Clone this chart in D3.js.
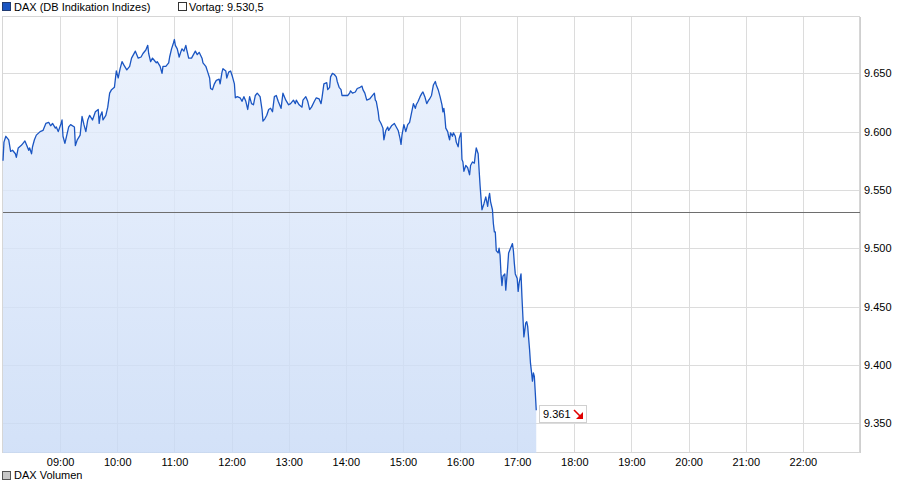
<!DOCTYPE html>
<html>
<head>
<meta charset="utf-8">
<script src="https://cdn.jsdelivr.net/npm/d3@7/dist/d3.min.js"></script>
<style>
html,body{margin:0;padding:0;background:#fff;}
svg{display:block;}
text{font-family:"Liberation Sans",Arial,sans-serif;font-size:11px;fill:#000;}
</style>
</head>
<body>
<svg id="chart" width="917" height="480"></svg>
<script>
// ---- data ----
const seriesName = "DAX (DB Indikation Indizes)";
const prevLabel = "Vortag: 9.530,5";
const prevClose = 9530.5;
const volumeLabel = "DAX Volumen";
const times = [
"08:00","08:01","08:03","08:06","08:08","08:10","08:13","08:14","08:16","08:19","08:21","08:23","08:25","08:27","08:28","08:30","08:31","08:33","08:35","08:39","08:42","08:45","08:48","08:50","08:52","08:55","08:56","08:58","09:01","09:02","09:03","09:05","09:07","09:09","09:11","09:15","09:16","09:18","09:21","09:23","09:25","09:27","09:29","09:31","09:34","09:37","09:40","09:41","09:42","09:44","09:45","09:48","09:50","09:52","09:54","09:57","09:59","10:01","10:03","10:05","10:07","10:10","10:13","10:15","10:17","10:19","10:22",
"10:25","10:27","10:30","10:32","10:33","10:35","10:37","10:39","10:41","10:42","10:45","10:47","10:48","10:51","10:54","10:55","10:57","10:59","11:00","11:01","11:03","11:05","11:07","11:08","11:10","11:12","11:13","11:15","11:18","11:22","11:24","11:26","11:29","11:30","11:33","11:35","11:37","11:38","11:40","11:42","11:44","11:47","11:48","11:50","11:51","11:54","11:55","11:57","11:59","12:01","12:03","12:04","12:06","12:09","12:11","12:13","12:15","12:17","12:19","12:21","12:23","12:25","12:27","12:30","12:32","12:33","12:35","12:37","12:39","12:41","12:43","12:45",
"12:47","12:49","12:52","12:54","12:57","13:00","13:02","13:05","13:07","13:08","13:11","13:14","13:15","13:18","13:20","13:22","13:24","13:27","13:29","13:32","13:34","13:35","13:37","13:40","13:41","13:43","13:44","13:46","13:48","13:50","13:51","13:53","13:55","13:56","13:59","14:02","14:04","14:05","14:07","14:10","14:12","14:15","14:17","14:18","14:20","14:22","14:25","14:27","14:30","14:31","14:32","14:34","14:35","14:37","14:39","14:40","14:42","14:44","14:45","14:48","14:51","14:53","14:55","14:57","14:58","14:59","15:01","15:03","15:05","15:07",
"15:10","15:11","15:13","15:14","15:16","15:18","15:20","15:21","15:23","15:25","15:27","15:28","15:30","15:32","15:34","15:35","15:37","15:39","15:41","15:42","15:43","15:44","15:45","15:47","15:48","15:49","15:50","15:52","15:53","15:55","15:56","15:58","15:59","16:01","16:02","16:03","16:04","16:06","16:08","16:10","16:11","16:13","16:15","16:16","16:17","16:19","16:20","16:21","16:22","16:23","16:25","16:27","16:29","16:30","16:31","16:32","16:34","16:35","16:36","16:37","16:38","16:40","16:41","16:42","16:43","16:44","16:45","16:47","16:48","16:50","16:51","16:53","16:55","16:56","16:57","16:58","17:00","17:01","17:02","17:04","17:05","17:06","17:07","17:09","17:10","17:11","17:13","17:14","17:15","17:16","17:17","17:18","17:19","17:20"
];
const values = [
9575,9591,9596,9593,9583,9584,9581,9578,9586,9588,9590,9592,9588,9584,9586,9581,9587,9593,9597,9600,9601,9607,9608,9605,9607,9603,9604,9600,9607,9610,9596,9590,9597,9604,9606,9604,9588,9593,9597,9613,9606,9600,9610,9614,9610,9617,9619,9607,9613,9617,9610,9614,9621,9633,9636,9638,9652,9646,9654,9660,9657,9653,9656,9663,9666,9669,9663,
9664,9667,9670,9674,9667,9660,9663,9661,9659,9660,9656,9650,9656,9656,9659,9664,9671,9676,9679,9674,9671,9664,9669,9671,9669,9674,9670,9663,9663,9669,9666,9668,9663,9659,9656,9651,9646,9637,9636,9641,9644,9645,9641,9651,9654,9652,9646,9651,9652,9647,9641,9629,9630,9629,9626,9630,9626,9619,9630,9624,9623,9631,9633,9630,9619,9609,9611,9614,9619,9620,9617,9630,
9631,9626,9620,9633,9627,9623,9624,9627,9624,9627,9623,9621,9627,9630,9626,9619,9621,9626,9629,9628,9624,9629,9641,9642,9636,9638,9647,9650,9649,9647,9643,9638,9636,9631,9631,9631,9633,9635,9633,9634,9637,9638,9639,9636,9633,9627,9628,9630,9633,9627,9626,9617,9610,9607,9603,9593,9601,9604,9601,9605,9607,9604,9601,9594,9589,9597,9606,9600,9606,9608,
9620,9624,9620,9623,9626,9630,9633,9634,9630,9624,9627,9628,9631,9640,9643,9640,9636,9630,9623,9617,9620,9613,9603,9600,9596,9593,9599,9596,9599,9596,9591,9587,9594,9599,9576,9574,9566,9571,9569,9563,9571,9574,9573,9580,9586,9581,9567,9554,9543,9533,9538,9544,9536,9543,9547,9540,9533,9521,9514,9514,9498,9496,9500,9494,9478,9468,9476,9478,9464,9484,9496,9500,9504,9498,9487,9478,9474,9463,9470,9478,9458,9441,9424,9436,9437,9433,9413,9401,9394,9386,9393,9390,9376,9361
];
const yTicks = [9350, 9400, 9450, 9500, 9550, 9600, 9650];
const xTickLabels = ["09:00","10:00","11:00","12:00","13:00","14:00","15:00","16:00","17:00","18:00","19:00","20:00","21:00","22:00"];
const xDomainLabels = ["08:00","23:00"];
const yDomain = [9324.4, 9698.3];

// ---- helpers ----
const toMin = s => { const p = s.split(":"); return +p[0]*60 + +p[1]; };
const de = d3.formatLocale({decimal:",", thousands:".", grouping:[3], currency:["","€"]});
const fmtInt = de.format(",.0f");

const data = times.map((t,i) => ({t: toMin(t), v: values[i]}));

// ---- layout ----
const L = 3, R = 860, T = 17, B = 453;
const svg = d3.select("#chart");
const x = d3.scaleLinear().domain(xDomainLabels.map(toMin)).range([L, R]);
const y = d3.scaleLinear().domain(yDomain).range([B, T]);

const defs = svg.append("defs");
const grad = defs.append("linearGradient").attr("id","fillGrad")
  .attr("gradientUnits","userSpaceOnUse").attr("x1",0).attr("x2",0).attr("y1",T).attr("y2",B);
grad.append("stop").attr("offset","0%").attr("stop-color","rgb(232,240,253)");
grad.append("stop").attr("offset","100%").attr("stop-color","rgb(200,218,246)");

// grid
const grid = svg.append("g");
grid.selectAll("line.h").data(yTicks).join("line")
  .attr("x1", L).attr("x2", R)
  .attr("y1", d => Math.round(y(d)) + 0.5).attr("y2", d => Math.round(y(d)) + 0.5)
  .attr("stroke", "#dcdcdc");
grid.selectAll("line.v").data(xTickLabels).join("line")
  .attr("x1", d => Math.round(x(toMin(d))) + 0.5).attr("x2", d => Math.round(x(toMin(d))) + 0.5)
  .attr("y1", T).attr("y2", B)
  .attr("stroke", "#dcdcdc");

// frame
svg.append("rect").attr("x", L - 0.5).attr("y", T - 0.5).attr("width", R - L).attr("height", B - T)
  .attr("fill","none").attr("stroke","#d6d6d6");

// area
const area = d3.area().x(d => x(d.t)).y0(B).y1(d => y(d.v));
svg.append("path").datum(data).attr("d", area)
  .attr("fill","url(#fillGrad)").attr("fill-opacity", 0.8);

// previous close line
svg.append("line").attr("x1", L).attr("x2", R)
  .attr("y1", Math.round(y(prevClose)) - 0.5).attr("y2", Math.round(y(prevClose)) - 0.5)
  .attr("stroke", "#6e6e6e").attr("stroke-width", 1);

// price line
const line = d3.line().x(d => x(d.t)).y(d => y(d.v));
svg.append("path").datum(data).attr("d", line)
  .attr("fill","none").attr("stroke","#1a55c2").attr("stroke-width",1.3).attr("stroke-linejoin","round");

// right axis line
svg.append("line").attr("x1", R + 0.5).attr("x2", R + 0.5).attr("y1", T).attr("y2", B)
  .attr("stroke","#cfcfcf");

// y axis
const yAxis = d3.axisRight(y).tickValues(yTicks).tickSize(0).tickPadding(4)
  .tickFormat(d => fmtInt(d));
const gy = svg.append("g").attr("transform", `translate(${R},0)`).call(yAxis);
gy.select(".domain").remove();
gy.selectAll("text").style("font-family",'"Liberation Sans",Arial,sans-serif').style("font-size","11px").attr("fill","#000");

// x axis
const xAxis = d3.axisBottom(x).tickValues(xTickLabels.map(toMin)).tickSize(0).tickPadding(5)
  .tickFormat((d,i) => xTickLabels[i]);
const gx = svg.append("g").attr("transform", `translate(0,${B})`).call(xAxis);
gx.select(".domain").remove();
gx.selectAll("text").style("font-family",'"Liberation Sans",Arial,sans-serif').style("font-size","11px").attr("fill","#000");

// last value label
const last = data[data.length - 1];
const lx = x(last.t), ly = y(last.v);
const lbl = svg.append("g").attr("transform", `translate(${Math.round(lx) + 3},${Math.round(ly) - 5})`);
lbl.append("rect").attr("x",0.5).attr("y",0.5).attr("width",47).attr("height",17)
  .attr("fill","#fff").attr("stroke","#d0d0d0");
lbl.append("text").attr("x",4).attr("y",13).text(fmtInt(last.v));
lbl.append("path").attr("d","M35,5 L41,11").attr("stroke","#e00000").attr("stroke-width",1.6);
lbl.append("path").attr("d","M44,14 L37,14 L44,7 Z").attr("fill","#e00000");

// legend
const lg = svg.append("g");
lg.append("rect").attr("x",2.5).attr("y",2.5).attr("width",8).attr("height",8)
  .attr("fill","#1a55c2").attr("stroke","#203a70");
lg.append("text").attr("x",14).attr("y",11).text(seriesName);
lg.append("rect").attr("x",178.5).attr("y",2.5).attr("width",8).attr("height",8)
  .attr("fill","#fff").attr("stroke","#333");
lg.append("text").attr("x",189).attr("y",11).text(prevLabel);
lg.append("rect").attr("x",2.5).attr("y",471.5).attr("width",8).attr("height",8)
  .attr("fill","#c8c8c8").attr("stroke","#555");
lg.append("text").attr("x",14).attr("y",479).text(volumeLabel);
</script>
</body>
</html>
